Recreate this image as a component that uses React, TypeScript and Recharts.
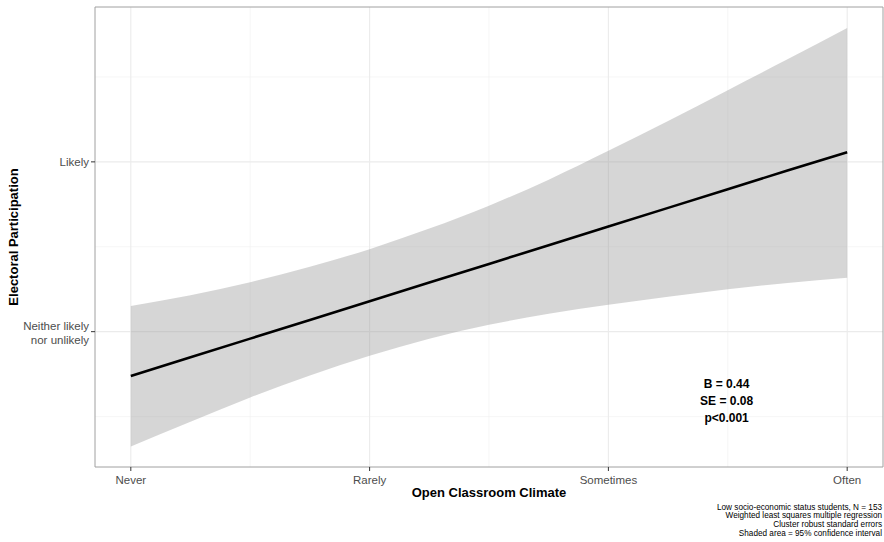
import React from "react";
import {
  ComposedChart,
  Area,
  Line,
  XAxis,
  YAxis,
  CartesianGrid,
  ReferenceArea,
  ReferenceDot,
  Label,
} from "recharts";

// Open classroom climate (1 = Never ... 4 = Often)
const climate = [1, 1.25, 1.5, 1.75, 2, 2.25, 2.5, 2.75, 3, 3.25, 3.5, 3.75, 4];
// Fitted electoral participation
const fitted = [2.739, 2.849, 2.959, 3.069, 3.179, 3.289, 3.399, 3.509, 3.619, 3.729, 3.839, 3.949, 4.056];
// 95% confidence interval bounds
const upperCI = [3.151, 3.214, 3.291, 3.382, 3.486, 3.607, 3.742, 3.895, 4.065, 4.24, 4.422, 4.604, 4.788];
const lowerCI = [2.324, 2.47, 2.612, 2.742, 2.858, 2.958, 3.04, 3.105, 3.158, 3.205, 3.25, 3.287, 3.318];

const xTickValues = [1, 2, 3, 4];
const xTickLabels = ["Never", "Rarely", "Sometimes", "Often"];
const xMinorValues = [1.5, 2.5, 3.5];
const yTickValues = [3, 4];
const yTickLabels = [["Neither likely", "nor unlikely"], ["Likely"]];
const yMinorValues = [2.5, 3.5, 4.5];

const xDomain = [0.85, 4.15];
const yDomain = [2.203, 4.912];

const statsLines = ["B = 0.44", "SE = 0.08", "p<0.001"];
const statsPos = { x: 3.495, y: 2.595 };
const captionLines = [
  "Low socio-economic status students, N = 153",
  "Weighted least squares multiple regression",
  "Cluster robust standard errors",
  "Shaded area = 95% confidence interval",
];

const data = climate.map((x, i) => ({
  x,
  fit: fitted[i],
  band: [lowerCI[i], upperCI[i]],
}));

const FONT = "'Liberation Sans', Arial, Helvetica, sans-serif";

const XTick = (props: any) => {
  const { x, y, payload } = props;
  const idx = xTickValues.indexOf(payload.value);
  return (
    <text x={x} y={y} dy={10} textAnchor="middle" fontSize={11.5} fill="#4D4D4D" fontFamily={FONT}>
      {xTickLabels[idx]}
    </text>
  );
};

const YTick = (props: any) => {
  const { x, y, payload } = props;
  const idx = yTickValues.indexOf(payload.value);
  const lines = yTickLabels[idx] || [];
  if (lines.length === 1) {
    return (
      <text x={x} y={y} dy={4} textAnchor="end" fontSize={11.5} fill="#4D4D4D" fontFamily={FONT}>
        {lines[0]}
      </text>
    );
  }
  return (
    <g>
      {lines.map((l: string, i: number) => (
        <text key={i} x={x} y={y - 1.3 + i * 14} textAnchor="end" fontSize={11.5} fill="#4D4D4D" fontFamily={FONT}>
          {l}
        </text>
      ))}
    </g>
  );
};

const XTitle = (props: any) => {
  const vb = props.viewBox;
  const right = vb.x + vb.width - 1;
  return (
    <g>
      <text x={vb.x + vb.width / 2} y={vb.y + 30} textAnchor="middle" fontSize={13} fontWeight="bold" fill="#000" fontFamily={FONT}>
        Open Classroom Climate
      </text>
      {captionLines.map((c, i) => (
        <text key={i} x={right} y={vb.y + 42.8 + i * 8.6} textAnchor="end" fontSize={8.2} fill="#000" fontFamily={FONT}>
          {c}
        </text>
      ))}
    </g>
  );
};

const YTitle = (props: any) => {
  const vb = props.viewBox;
  const cy = vb.y + vb.height / 2;
  const bx = 18.3;
  return (
    <text
      x={bx}
      y={cy}
      transform={`rotate(-90, ${bx}, ${cy})`}
      textAnchor="middle"
      fontSize={13}
      fontWeight="bold"
      fill="#000"
      fontFamily={FONT}
    >
      Electoral Participation
    </text>
  );
};

const StatsShape = (props: any) => {
  const { cx, cy } = props;
  return (
    <g>
      {statsLines.map((s, i) => (
        <text key={i} x={cx} y={cy + 4.3 + (i - 1) * 17} textAnchor="middle" fontSize={12} fontWeight="bold" fill="#000" fontFamily={FONT}>
          {s}
        </text>
      ))}
    </g>
  );
};

export default function App() {
  return (
    <div style={{ position: "absolute", left: 0, top: 0, width: 884, height: 542, background: "#fff" }}>
      <ComposedChart width={884} height={542} data={data} margin={{ top: 7, right: 1, bottom: 0, left: 0 }}>
        <CartesianGrid
          stroke="#F0F0F0"
          strokeWidth={0.6}
          verticalValues={xMinorValues}
          horizontalValues={yMinorValues}
        />
        <CartesianGrid
          stroke="#EBEBEB"
          strokeWidth={1.1}
          verticalValues={xTickValues}
          horizontalValues={yTickValues}
        />
        <XAxis
          type="number"
          dataKey="x"
          domain={xDomain}
          ticks={xTickValues}
          allowDataOverflow
          height={75}
          axisLine={false}
          tickLine={{ stroke: "#333", strokeWidth: 1 }}
          tickSize={4}
          tickMargin={3}
          tick={<XTick />}
          interval={0}
        >
          <Label content={<XTitle />} />
        </XAxis>
        <YAxis
          type="number"
          domain={yDomain}
          ticks={yTickValues}
          allowDataOverflow
          width={95}
          axisLine={false}
          tickLine={{ stroke: "#333", strokeWidth: 1 }}
          tickSize={4}
          tickMargin={2}
          tick={<YTick />}
          interval={0}
        >
          <Label content={<YTitle />} />
        </YAxis>
        <Area
          type="monotone"
          dataKey="band"
          stroke="none"
          fill="#999999"
          fillOpacity={0.4}
          isAnimationActive={false}
          activeDot={false}
        />
        <Line
          type="linear"
          dataKey="fit"
          stroke="#000"
          strokeWidth={2.6}
          dot={false}
          activeDot={false}
          isAnimationActive={false}
        />
        <ReferenceArea
          x1={xDomain[0]}
          x2={xDomain[1]}
          y1={yDomain[0]}
          y2={yDomain[1]}
          fill="none"
          stroke="#A0A0A0"
          strokeWidth={1}
          fillOpacity={0}
          ifOverflow="visible"
        />
        <ReferenceDot x={statsPos.x} y={statsPos.y} r={0} shape={<StatsShape />} ifOverflow="visible" />
      </ComposedChart>
    </div>
  );
}
